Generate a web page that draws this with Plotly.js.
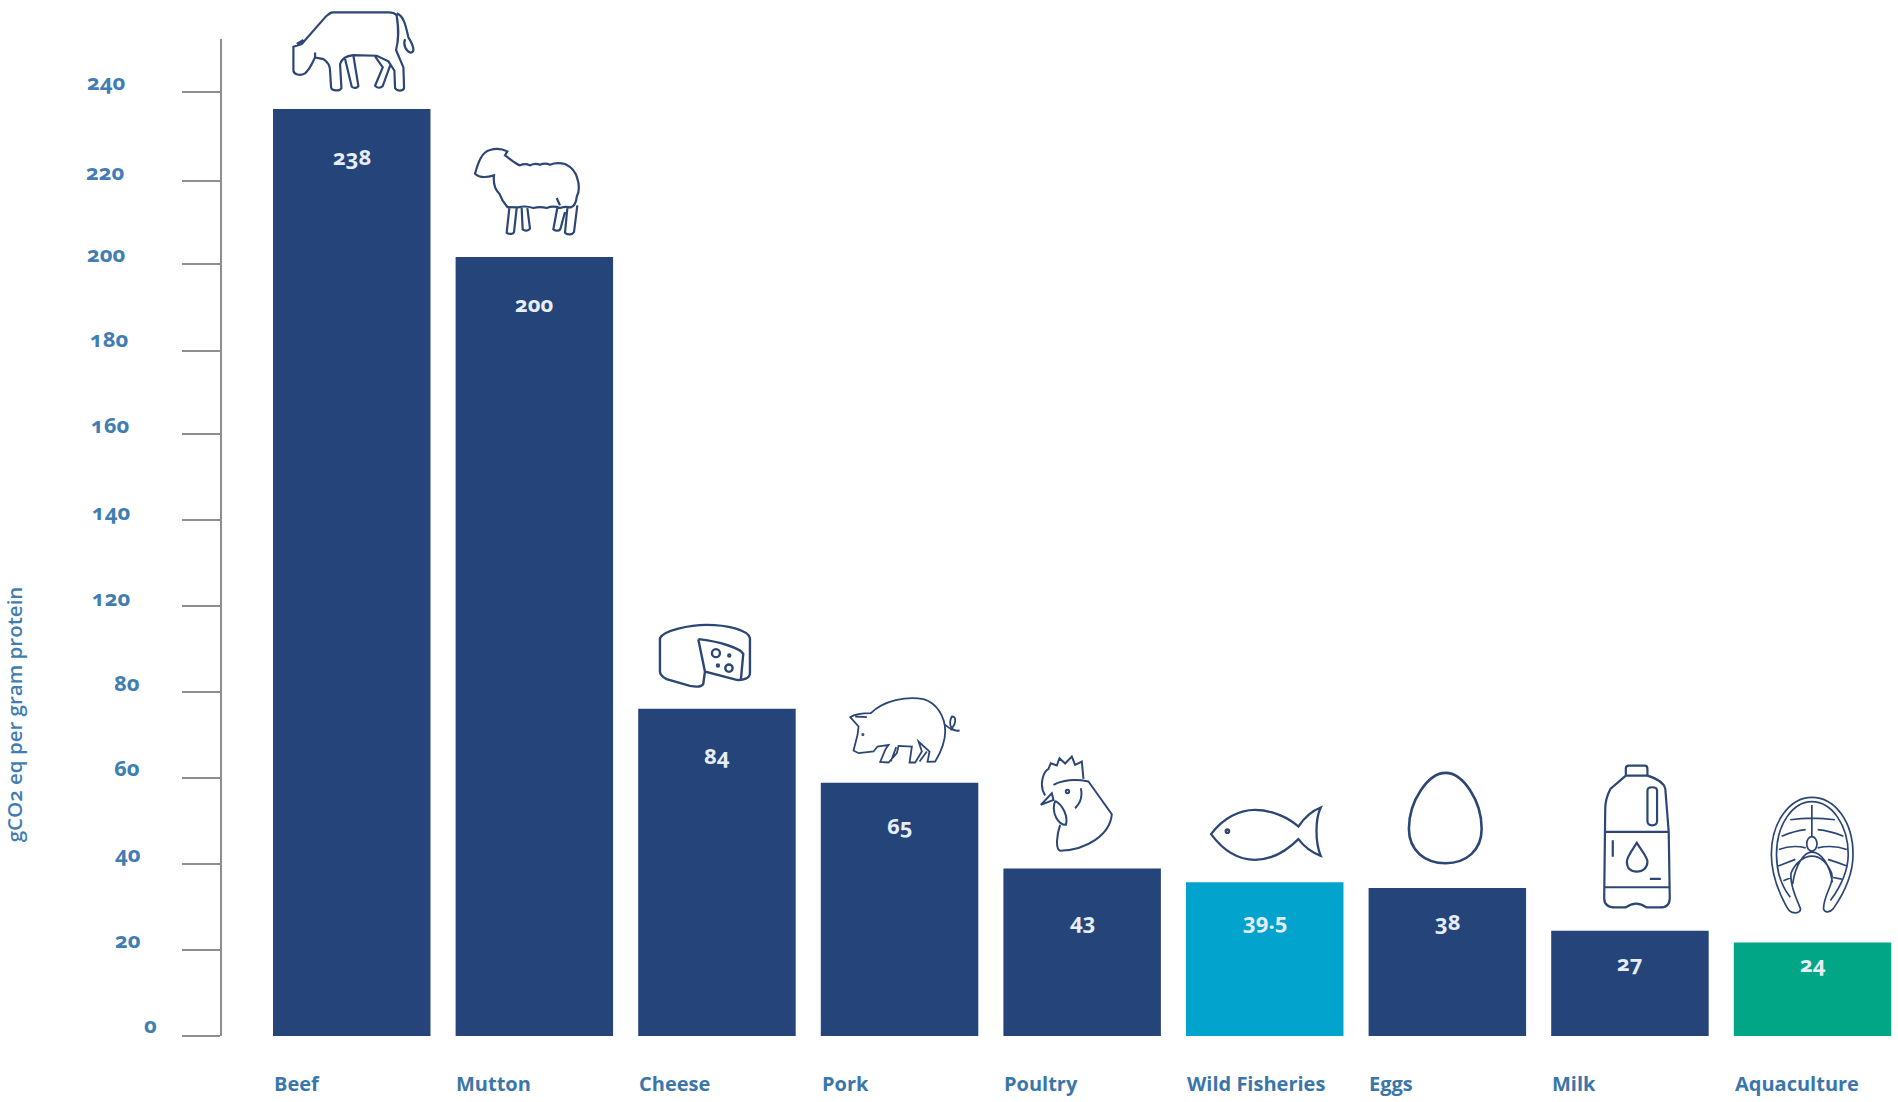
<!DOCTYPE html>
<html>
<head>
<meta charset="utf-8">
<script src="https://cdn.plot.ly/plotly-3.0.1.min.js"></script>
<style>
  html, body { margin: 0; padding: 0; background: #fff; }
  svg text { font-feature-settings: "onum" 1; font-variant-numeric: oldstyle-nums; }
</style>
</head>
<body>
<div id="chart" style="width:1898px;height:1102px"></div>
<script>
// Greenhouse gas intensity of protein sources
const categories = ["Beef", "Mutton", "Cheese", "Pork", "Poultry", "Wild Fisheries", "Eggs", "Milk", "Aquaculture"];
const emissions = [238, 200, 84, 65, 43, 39.5, 38, 27, 24];
const barColors = ["#25447a", "#25447a", "#25447a", "#25447a", "#25447a", "#02a4cd", "#25447a", "#25447a", "#00a685"];

// The printed scale skips 100, and its ticks sit apart from the bars' own unit
const tickLabels = ["0", "20", "40", "60", "80", "120", "140", "160", "180", "200", "220", "240"];
const tickValues = [0, 22.1, 44.2, 66.3, 88.3, 110.4, 132.5, 154.5, 176, 198.2, 219.5, 242.5];

// Label placement in pixels, relative to the axis line and each tick
const tickLabelX = [-71, -93, -93, -94, -94, -110, -110, -111, -112, -115.5, -116.5, -115];
const tickLabelLift = [12.2, 10.7, 10.4, 10.7, 10.2, 9.2, 9.4, 10.2, 12.4, 11.4, 10.4, 10.4];
const valueLabelDrop = [46.8, 46.2, 46.4, 42.3, 51.6, 38.1, 33.4, 31.6, 20.1];

const ink = "#2c4775";
const labelBlue = "#3f7db3";
const axisGrey = "#8e8e8e";
const FONT = '"Open Sans", sans-serif';

// Small outline helpers; coordinates are y-down until flipped for pixel-sized shapes
function ring(cx, cy, rx, ry) {
  ry = ry === undefined ? rx : ry;
  const c = 0.5523;
  return `M${cx - rx} ${cy} C${cx - rx} ${cy - c * ry} ${cx - c * rx} ${cy - ry} ${cx} ${cy - ry} ` +
    `C${cx + c * rx} ${cy - ry} ${cx + rx} ${cy - c * ry} ${cx + rx} ${cy} ` +
    `C${cx + rx} ${cy + c * ry} ${cx + c * rx} ${cy + ry} ${cx} ${cy + ry} ` +
    `C${cx - c * rx} ${cy + ry} ${cx - rx} ${cy + c * ry} ${cx - rx} ${cy} Z`;
}

function localPath(d, ox, oy, k, ky) {
  return d.replace(/(-?\d+\.?\d*)[ ,]+(-?\d+\.?\d*)/g, (m, x, y) =>
    `${((x - ox) / k).toFixed(2)} ${((oy - y) / (ky || k)).toFixed(2)}`);
}

// One pictogram per food: outline drawn around an origin on the bar's top centre
const icons = [
  { ox: 1055, oy: 325, k: 3, w: 2.2, d:
    "M880 150 L880 210 C882 222 900 226 915 218 C930 205 935 190 945 170 L970 175 C985 185 990 195 990 210 L993 260 C996 272 1020 272 1024 262 L1020 190 C1025 172 1040 165 1060 163 L1130 165 L1165 182 L1183 210 L1185 262 C1190 272 1210 272 1212 262 L1210 200 L1188 148 C1198 110 1195 80 1190 45 C1185 35 1175 35 1165 35 L1000 35 C990 35 985 40 975 50 L905 130 L880 138 Z " +
    "M1190 38 C1212 45 1218 80 1225 110 C1240 135 1246 152 1232 156 C1218 152 1208 132 1215 115 " +
    "M1035 175 L1055 258 C1062 264 1072 262 1075 256 L1060 165 " +
    "M1125 167 L1148 200 L1125 255 C1130 263 1142 263 1148 256 L1170 195 " +
    "M890 130 L910 118 M945 155 L945 172" },
  { ox: 253, oy: 405, k: 3, w: 2.2, d:
    "M75 155 C85 120 95 90 120 84 C140 78 160 82 172 88 L165 100 C180 110 195 125 210 130 Q225 122 240 130 Q255 122 270 128 Q285 122 300 128 Q320 120 345 126 Q375 140 382 170 Q392 200 380 225 Q378 250 362 256 Q345 252 330 258 Q310 250 290 258 Q270 252 250 258 Q225 250 205 256 L172 255 Q155 235 148 215 Q128 195 132 160 C115 165 90 170 75 155 Z " +
    "M178 258 L170 332 C180 338 190 336 192 330 L200 258 M215 258 L218 322 C225 328 236 326 240 320 L232 258 " +
    "M322 258 L310 322 C318 328 330 328 332 318 L345 270 M352 258 L345 332 C352 340 368 338 372 330 L382 250 " +
    "M320 228 L330 250" },
  { ox: 231, oy: 297, k: 3, w: 2.4, d:
    "M60 85 C70 62 150 45 200 45 C260 45 325 60 330 85 L330 190 C330 205 310 212 290 210 L195 185 L190 222 C185 232 170 232 150 228 L80 208 C65 200 60 195 60 185 Z " +
    "M175 88 L195 185 M175 88 C240 95 300 115 310 132 L303 208 " +
    ring(228, 130, 12) + " " + ring(267, 175, 11) + " " + ring(268, 137, 3) + " " + ring(234, 167, 3) },
  { ox: 778, oy: 519, k: 3, w: 1.8, d:
    "M630 322 C645 312 670 310 692 310 C730 272 800 258 850 268 C890 280 915 320 915 365 C915 400 900 430 885 455 L862 456 L868 425 L835 395 L845 425 L825 458 L808 458 L815 410 L775 408 L770 430 L745 458 L720 456 L735 420 L745 405 L712 410 L700 425 L655 430 L640 422 L652 375 L655 350 Z " +
    "M645 320 L680 322 M752 455 L768 412 M838 455 L860 425 " +
    "M915 345 C930 358 945 365 958 362 C935 365 922 345 935 320 C950 318 948 345 930 360 " +
    ring(668, 374, 2) },
  { ox: 216, oy: 381, k: 3, w: 2, d:
    "M130 130 C170 110 210 115 235 120 L305 218 C300 280 230 325 150 328 C135 322 140 280 150 250 " +
    "M105 162 C85 130 100 90 115 82 L122 65 L140 72 L148 50 L165 66 L185 45 L195 70 L215 60 L220 112 " +
    "M92 190 L125 155 L130 175 Z " +
    "M135 178 C122 215 145 250 167 250 C175 225 158 190 135 178 " +
    "M212 140 C218 165 210 185 195 200 " + ring(172, 150, 5) },
  { ox: 764, oy: 429, k: 3, w: 2.3, d:
    "M603 285 C640 235 690 212 735 212 C790 212 840 240 865 262 C880 240 905 215 932 205 C915 240 915 310 932 350 C905 340 880 320 865 300 C830 335 785 362 735 362 C680 362 640 335 603 285 Z " +
    ring(652, 276, 5) },
  { ox: 255, oy: 442.4, k: 2.914, ky: 3, w: 2.6, d:
    "M250 97 C300 97 355 180 355 265 C355 330 310 368 250 368 C190 368 143 330 143 265 C143 180 200 97 250 97 Z" },
  { ox: 787, oy: 568.7, k: 2.914, ky: 3.02, w: 2.2, d:
    "M775 100 L775 78 Q775 70 785 70 L830 70 Q838 70 838 80 L838 100 Z " +
    "M775 100 L730 140 Q715 170 715 200 L712 470 Q712 498 745 498 L775 498 Q805 475 835 498 L875 498 Q903 498 903 470 L900 270 L890 140 Q885 115 838 100 " +
    "M838 145 Q838 135 852 135 Q866 135 866 145 L866 238 Q866 250 852 250 Q838 250 838 238 Z " +
    "M715 270 L900 270 M715 437 L900 437 M737 295 L737 345 M845 412 L877 412 " +
    "M807 303 C790 330 778 345 778 360 C778 380 790 390 807 390 C825 390 838 378 838 360 C838 345 820 325 807 303 Z" },
  { ox: 1320, oy: 607, k: 2.914, ky: 3.03, w: 1.7, d:
    "M1270 517 C1255 517 1250 510 1240 490 C1215 440 1200 390 1200 340 C1200 240 1255 167 1318 167 C1385 167 1438 240 1438 340 C1438 400 1410 460 1380 505 C1370 517 1355 517 1352 505 C1352 460 1385 430 1375 395 C1360 360 1340 345 1318 345 C1295 345 1270 365 1258 395 C1250 430 1280 490 1285 505 C1285 515 1275 517 1270 517 Z " +
    "M1255 470 C1225 430 1215 380 1215 340 C1215 250 1262 180 1318 180 C1375 180 1424 250 1424 340 C1424 390 1400 440 1372 480 " +
    "M1262 430 C1270 370 1295 333 1318 333 C1345 333 1370 370 1378 425 " +
    "M1318 190 L1318 285 M1255 235 Q1318 225 1385 235 M1230 285 Q1270 268 1300 265 M1335 265 Q1370 268 1410 285 " +
    "M1222 325 Q1260 310 1300 320 M1335 320 Q1380 310 1420 325 M1220 375 Q1245 365 1270 355 M1365 355 Q1395 365 1420 375 " +
    "M1235 420 L1258 410 M1405 415 L1380 410 " + ring(1318, 308, 15, 22) }
];

const iconShapes = icons.map((icon, i) => ({
  type: "path", layer: "above",
  xref: "x", yref: "y",
  xsizemode: "pixel", ysizemode: "pixel",
  xanchor: categories[i], yanchor: emissions[i],
  path: localPath(icon.d, icon.ox, icon.oy, icon.k, icon.ky),
  line: { color: ink, width: icon.w }
}));

// The axis line stops short of the top of the plot area so the cow can stand above it
const axisLine = {
  type: "line", xref: "paper", yref: "y", x0: 0, x1: 0, y0: 0, y1: 256,
  line: { color: axisGrey, width: 2 }
};

const valueAnnotations = categories.map((name, i) => ({
  x: name, y: emissions[i], xref: "x", yref: "y",
  text: String(emissions[i]), showarrow: false,
  xanchor: "center", yanchor: "middle", yshift: -valueLabelDrop[i],
  font: { family: FONT, size: 22, color: "#e6edf4", weight: 700 }
}));

const categoryAnnotations = categories.map(name => ({
  x: name, y: 0, xref: "x", yref: "y",
  text: name, showarrow: false,
  xanchor: "left", yanchor: "middle", xshift: -80, yshift: -47.5,
  font: { family: FONT, size: 20, color: "#3b76ab", weight: 700 }
}));

const tickAnnotations = tickLabels.map((label, i) => ({
  x: 0, y: tickValues[i], xref: "paper", yref: "y",
  text: label, showarrow: false,
  xanchor: "center", yanchor: "middle", xshift: tickLabelX[i], yshift: tickLabelLift[i],
  font: { family: FONT, size: 22, color: labelBlue, weight: 700 }
}));

const yTitle = {
  x: 0, y: 0.31, xref: "paper", yref: "paper",
  text: "gCO2 eq per gram protein", showarrow: false, textangle: -90,
  xanchor: "center", yanchor: "middle", xshift: -207.5, borderpad: 0,
  font: { family: FONT, size: 20.5, color: labelBlue, weight: 600 }
};

Plotly.newPlot("chart", [{
  type: "bar",
  x: categories,
  y: emissions,
  marker: { color: barColors, line: { width: 0 } },
  hoverinfo: "x+y"
}], {
  width: 1898,
  height: 1102,
  autosize: false,
  showlegend: false,
  paper_bgcolor: "#ffffff",
  plot_bgcolor: "#ffffff",
  margin: { l: 221, r: 0, t: 0, b: 66, pad: 0 },
  bargap: 0.1375,
  xaxis: {
    type: "category",
    categoryorder: "array",
    categoryarray: categories,
    range: [-0.716, 8.468],
    showticklabels: false,
    ticks: "",
    showgrid: false,
    zeroline: false,
    showline: false
  },
  yaxis: {
    range: [0, 266],
    tickmode: "array",
    tickvals: tickValues,
    ticktext: tickLabels,
    showticklabels: false,
    ticks: "outside",
    ticklen: 38,
    tickwidth: 2,
    tickcolor: axisGrey,
    showgrid: false,
    zeroline: false,
    showline: false
  },
  shapes: [axisLine, ...iconShapes],
  annotations: [...tickAnnotations, ...valueAnnotations, ...categoryAnnotations, yTitle]
}, { displayModeBar: false, responsive: false });
</script>
</body>
</html>
